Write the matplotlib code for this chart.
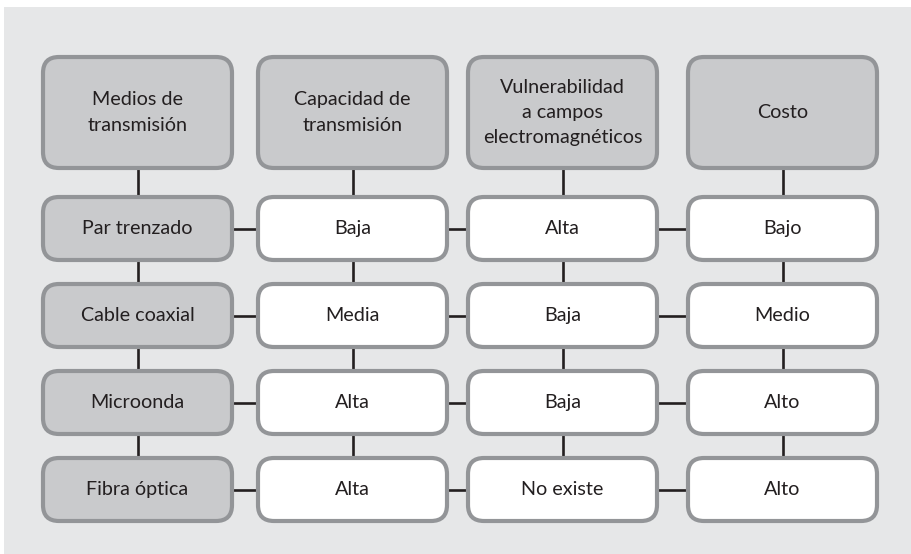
import matplotlib
matplotlib.use("Agg")
import matplotlib.pyplot as plt
from matplotlib.patches import FancyBboxPatch, Rectangle

plt.rcParams['font.family'] = ['Lato', 'DejaVu Sans']

headers = ["Medios de\ntransmisión", "Capacidad de\ntransmisión",
           "Vulnerabilidad\na campos\nelectromagnéticos", "Costo"]
media = ["Par trenzado", "Cable coaxial", "Microonda", "Fibra óptica"]
capacidad = ["Baja", "Media", "Alta", "Alta"]
vulnerabilidad = ["Alta", "Baja", "Baja", "No existe"]
costo = ["Bajo", "Medio", "Alto", "Alto"]

# layout (pixels)
W, H = 911, 554
col_left = [43, 258, 468, 688]
col_w = 189
head_top, head_h = 57, 111
row_top = [197, 284, 371, 458]
row_h = 63

bg = "#e6e7e8"
edge = "#939598"
gray_fill = "#c9cacc"
txt = "#231f20"
line_c = "#231f20"

fig = plt.figure(figsize=(W/100, H/100), dpi=100)
fig.patch.set_facecolor("white")
ax = fig.add_axes([0, 0, 1, 1])
ax.set_xlim(0, W)
ax.set_ylim(H, 0)
ax.axis("off")

ax.add_patch(Rectangle((4, 7), W, H, facecolor=bg, edgecolor="none", zorder=0))

def box(x, y, w, h, fc, label, fs=14.2):
    p = FancyBboxPatch((x, y), w, h, boxstyle="round,pad=0,rounding_size=16",
                       facecolor=fc, edgecolor=edge, linewidth=3.0, zorder=3)
    ax.add_patch(p)
    ax.text(x + w/2, y + h/2, label, ha="center", va="center", fontsize=fs,
            color=txt, zorder=4, linespacing=1.6)

columns = [media, capacidad, vulnerabilidad, costo]
lw = 1.9
# connectors
for j in range(4):
    cx = col_left[j] + col_w/2
    ax.plot([cx, cx], [head_top + head_h, row_top[0]], color=line_c, lw=lw, zorder=1)
    for i in range(3):
        ax.plot([cx, cx], [row_top[i] + row_h, row_top[i+1]], color=line_c, lw=lw, zorder=1)
for i in range(4):
    cy = row_top[i] + row_h/2
    for j in range(3):
        ax.plot([col_left[j] + col_w, col_left[j+1]], [cy, cy], color=line_c, lw=lw, zorder=1)

for j, h in enumerate(headers):
    box(col_left[j], head_top, col_w, head_h, gray_fill, h)
for j, col in enumerate(columns):
    for i, v in enumerate(col):
        box(col_left[j], row_top[i], col_w, row_h, gray_fill if j == 0 else "white", v)

fig.savefig("out.png", dpi=100, facecolor=fig.get_facecolor())
